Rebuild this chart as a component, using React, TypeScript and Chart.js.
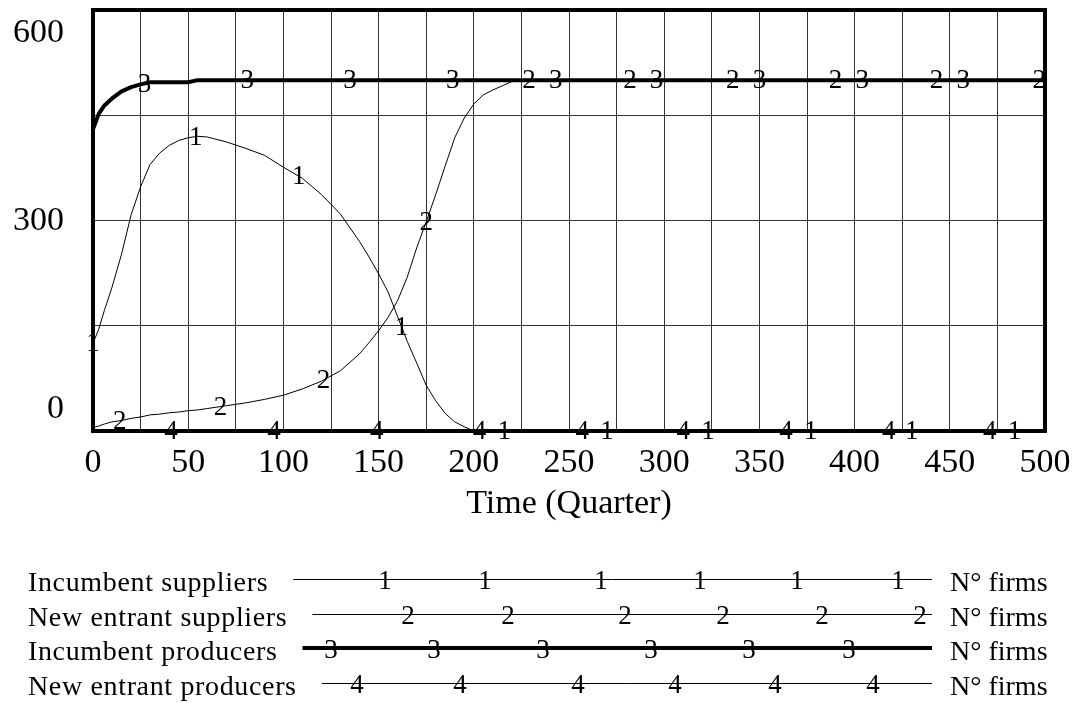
import React, { useEffect, useRef } from "react";
import { Chart, registerables } from "chart.js";

Chart.register(...registerables);

const FONT = '"Liberation Serif", "Times New Roman", serif';

// Time axis (quarters)
const times = [0, 3, 6, 10, 15, 20, 25, 30, 35, 40, 45, 50, 55, 60, 70, 80, 90, 100, 110, 120, 130, 140, 145, 150, 155, 160, 165, 170, 175, 180, 185, 190, 195, 200, 205, 210, 215, 220, 225, 230, 250, 300, 350, 400, 450, 500];

// Series values (N° firms)
const incumbentSuppliers = [125, 145, 172, 205, 252, 308, 348, 380, 396, 407, 414, 418, 420, 419, 412, 403, 393, 376, 360, 337, 309, 270, 248, 224, 198, 163, 128, 97, 65, 43, 25, 13, 6, 0, 0, 0, 0, 0, 0, 0, 0, 0, 0, 0, 0, 0];
const newEntrantSuppliers = [5, 7, 10, 13, 15, 18, 20, 23, 24, 26, 27, 29, 30, 32, 36, 40, 45, 51, 60, 71, 86, 110, 126, 143, 162, 186, 219, 261, 298, 337, 378, 418, 446, 466, 479, 486, 492, 498, 500, 500, 500, 500, 500, 500, 500, 500];
const incumbentProducers = [430, 452, 464, 474, 484, 490, 494, 497, 497, 497, 497, 497, 500, 500, 500, 500, 500, 500, 500, 500, 500, 500, 500, 500, 500, 500, 500, 500, 500, 500, 500, 500, 500, 500, 500, 500, 500, 500, 500, 500, 500, 500, 500, 500, 500, 500];
const newEntrantProducers = [0, 0, 0, 0, 0, 0, 0, 0, 0, 0, 0, 0, 0, 0, 0, 0, 0, 0, 0, 0, 0, 0, 0, 0, 0, 0, 0, 0, 0, 0, 0, 0, 0, 0, 0, 0, 0, 0, 0, 0, 0, 0, 0, 0, 0, 0];

// Times at which the series numbers are printed on the curves
const incumbentSuppliersMarks = [0, 54, 108, 162, 216, 270, 323, 377, 430, 484];
const newEntrantSuppliersMarks = [14, 67, 121, 175, 229, 282, 336, 390, 443, 497];
const incumbentProducersMarks = [27, 81, 135, 189, 243, 296, 350, 404, 457];
const newEntrantProducersMarks = [41, 95, 149, 203, 257, 310, 364, 418, 471];

const seriesNames = ["Incumbent suppliers", "New entrant suppliers", "Incumbent producers", "New entrant producers"];
const seriesTags = ["1", "2", "3", "4"];
const seriesUnit = "N\u00B0 firms";
const yTickLabels = [0, 300, 600];
const xAxisTitle = "Time (Quarter)";

// legend decoration layout (pixel positions of the numbers on legend lines)
const legendMarkX = [
  [385, 485, 601, 700, 797, 898],
  [408, 508, 625, 723, 822, 920],
  [331, 434, 543, 651, 749, 849],
  [357, 460, 578, 675, 775, 873],
];

function interp(data: { x: number; y: number }[], t: number) {
  for (let i = 0; i < data.length - 1; i++) {
    const a = data[i], b = data[i + 1];
    if (t >= a.x && t <= b.x) {
      const f = b.x === a.x ? 0 : (t - a.x) / (b.x - a.x);
      return a.y + f * (b.y - a.y);
    }
  }
  return data[data.length - 1].y;
}

const vensimPlugin = {
  id: "vensim",
  afterDatasetsDraw(chart: any) {
    const { ctx, chartArea } = chart;
    ctx.save();
    ctx.strokeStyle = "#000";
    ctx.lineWidth = 4;
    ctx.strokeRect(chartArea.left, chartArea.top, chartArea.right - chartArea.left, chartArea.bottom - chartArea.top);
    ctx.restore();
  },
  afterDraw(chart: any) {
    const { ctx, scales } = chart;
    const xs = scales.x, ys = scales.y;
    ctx.save();
    ctx.fillStyle = "#000";
    // numbers on curves
    ctx.font = `27px ${FONT}`;
    ctx.textAlign = "center";
    ctx.textBaseline = "middle";
    chart.data.datasets.forEach((ds: any) => {
      ds.marks.forEach((t: number) => {
        const v = interp(ds.data, t);
        ctx.fillText(ds.tag, xs.getPixelForValue(t), ys.getPixelForValue(v) + 1);
      });
    });
    // y tick labels (Vensim style: end labels inset)
    ctx.font = `34px ${FONT}`;
    ctx.textAlign = "right";
    ctx.textBaseline = "middle";
    yTickLabels.forEach((v, i) => {
      let py = ys.getPixelForValue(v);
      if (i === yTickLabels.length - 1) py += 22;
      if (i === 0) py -= 23;
      ctx.fillText(String(v), 64, py + 1);
    });
    // legend
    seriesNames.forEach((name, i) => {
      const ly = 579 + i * 34.6;
      ctx.font = `28px ${FONT}`;
      ctx.textAlign = "left";
      ctx.textBaseline = "alphabetic";
      (ctx as any).letterSpacing = "0.65px";
      ctx.fillText(name, 28, ly + 12);
      const w = ctx.measureText(name).width;
      (ctx as any).letterSpacing = "0px";
      ctx.beginPath();
      ctx.lineWidth = i === 2 ? 4 : 1;
      ctx.strokeStyle = "#000";
      ctx.moveTo(28 + w + 25, Math.round(ly) + (i === 2 ? 0 : 0.5));
      ctx.lineTo(932, Math.round(ly) + (i === 2 ? 0 : 0.5));
      ctx.stroke();
      ctx.fillText(seriesUnit, 950, ly + 12);
      ctx.font = `27px ${FONT}`;
      ctx.textAlign = "center";
      ctx.textBaseline = "middle";
      legendMarkX[i].forEach((mx) => ctx.fillText(seriesTags[i], mx, ly + 3));
    });
    ctx.restore();
  },
};

export default function App() {
  const ref = useRef<HTMLCanvasElement>(null);
  useEffect(() => {
    document.body.style.margin = "0";
    const seriesValues = [incumbentSuppliers, newEntrantSuppliers, incumbentProducers, newEntrantProducers];
    const seriesMarks = [incumbentSuppliersMarks, newEntrantSuppliersMarks, incumbentProducersMarks, newEntrantProducersMarks];
    const datasets: any[] = seriesNames.map((name, i) => ({
      label: name,
      tag: seriesTags[i],
      marks: seriesMarks[i],
      data: times.map((t, k) => ({ x: t, y: seriesValues[i][k] })),
      borderColor: "#000",
      borderWidth: i === 2 ? 4 : 1,
      pointRadius: 0,
      tension: 0,
      fill: false,
      borderJoinStyle: "round",
      order: i === 2 ? 0 : 1,
    }));
    const chart = new Chart(ref.current!, {
      type: "line",
      data: { datasets },
      options: {
        animation: false,
        responsive: false,
        devicePixelRatio: 1,
        layout: { padding: { left: 0, top: 10, right: 34, bottom: 179 } },
        plugins: { legend: { display: false }, tooltip: { enabled: false } },
        scales: {
          x: {
            type: "linear",
            min: 0,
            max: 500,
            grid: { color: "#333", lineWidth: 1, drawTicks: false },
            border: { display: false },
            ticks: {
              stepSize: 25,
              autoSkip: false,
              maxRotation: 0,
              padding: 12,
              color: "#000",
              font: { family: FONT, size: 34 },
              callback: (v: any) => (Number(v) % 50 === 0 ? String(v) : ""),
            },
            title: { display: true, text: xAxisTitle, color: "#000", font: { family: FONT, size: 34 }, padding: 0 },
            afterFit: (s: any) => {
              s.height = 93;
              s.paddingLeft = 0;
              s.paddingRight = 0;
            },
          },
          y: {
            type: "linear",
            min: 0,
            max: 600,
            grid: { color: "#333", lineWidth: 1, drawTicks: false },
            border: { display: false },
            ticks: { stepSize: 150, display: false },
            afterFit: (s: any) => {
              s.width = 93;
              s.paddingTop = 0;
              s.paddingBottom = 0;
            },
          },
        },
      },
      plugins: [vensimPlugin],
    } as any);
    return () => chart.destroy();
  }, []);
  return <canvas ref={ref} width={1079} height={703} style={{ display: "block" }} />;
}
